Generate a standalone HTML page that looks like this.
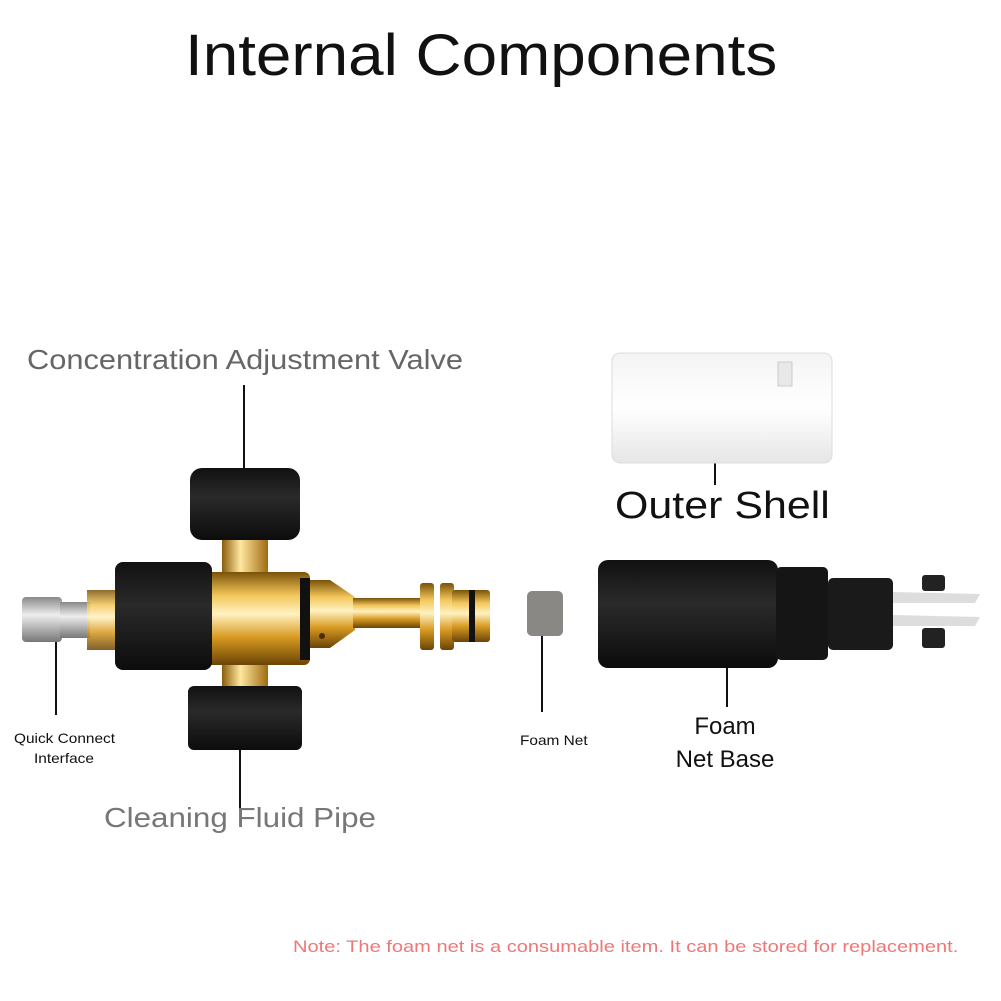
<!DOCTYPE html>
<html><head><meta charset="utf-8"><style>
html,body{margin:0;padding:0;background:#fff;}
body{width:1001px;height:1001px;position:relative;overflow:hidden;font-family:"Liberation Sans",sans-serif;}
.t{position:absolute;white-space:nowrap;transform-origin:0 0;transform:scaleX(1.1);}
</style></head><body>
<svg width="1001" height="1001" style="position:absolute;left:0;top:0">
<defs>
<linearGradient id="br" x1="0" y1="0" x2="0" y2="1">
<stop offset="0" stop-color="#7a5208"/><stop offset="0.25" stop-color="#f3c65a"/><stop offset="0.45" stop-color="#fff2c0"/><stop offset="0.7" stop-color="#d89a22"/><stop offset="1" stop-color="#6a4406"/>
</linearGradient>
<linearGradient id="brv" x1="0" y1="0" x2="1" y2="0">
<stop offset="0" stop-color="#8a5c0a"/><stop offset="0.4" stop-color="#ffe7a0"/><stop offset="1" stop-color="#a06a10"/>
</linearGradient>
<linearGradient id="si" x1="0" y1="0" x2="0" y2="1">
<stop offset="0" stop-color="#888"/><stop offset="0.4" stop-color="#eee"/><stop offset="1" stop-color="#777"/>
</linearGradient>
<linearGradient id="bk" x1="0" y1="0" x2="0" y2="1">
<stop offset="0" stop-color="#111"/><stop offset="0.4" stop-color="#2a2a2a"/><stop offset="1" stop-color="#0c0c0c"/>
</linearGradient>
<linearGradient id="wh" x1="0" y1="0" x2="0" y2="1">
<stop offset="0" stop-color="#f4f4f4"/><stop offset="0.5" stop-color="#fff"/><stop offset="1" stop-color="#e6e6e6"/>
</linearGradient>
</defs>
<g stroke="#111" stroke-width="2">
<line x1="244" y1="385" x2="244" y2="468"/>
<line x1="56" y1="625" x2="56" y2="715"/>
<line x1="240" y1="750" x2="240" y2="810"/>
<line x1="542" y1="620" x2="542" y2="712"/>
<line x1="727" y1="665" x2="727" y2="707"/>
<line x1="715" y1="445" x2="715" y2="485"/>
</g>
<rect x="612" y="353" width="220" height="110" rx="8" fill="url(#wh)" stroke="#ddd"/>
<rect x="778" y="362" width="14" height="24" fill="#e8e8e8" stroke="#ccc"/>
<rect x="22" y="597" width="40" height="45" rx="4" fill="url(#si)"/>
<rect x="60" y="602" width="30" height="36" fill="url(#si)"/>
<rect x="87" y="590" width="28" height="60" fill="url(#br)" opacity="0.85"/>
<rect x="222" y="538" width="46" height="40" fill="url(#brv)"/>
<rect x="222" y="655" width="46" height="35" fill="url(#brv)"/>
<rect x="205" y="572" width="105" height="93" rx="6" fill="url(#br)"/>
<rect x="300" y="578" width="10" height="82" fill="#111"/>
<polygon points="310,580 330,580 355,597 355,630 330,648 310,648" fill="url(#br)"/>
<rect x="353" y="598" width="72" height="30" fill="url(#br)"/>
<rect x="420" y="583" width="14" height="67" rx="3" fill="url(#br)"/>
<rect x="440" y="583" width="14" height="67" rx="3" fill="url(#br)"/>
<rect x="452" y="590" width="38" height="52" rx="3" fill="url(#br)"/>
<rect x="469" y="590" width="6" height="52" fill="#111"/>
<circle cx="322" cy="636" r="3" fill="#4a2a00"/>
<rect x="115" y="562" width="97" height="108" rx="8" fill="url(#bk)"/>
<rect x="190" y="468" width="110" height="72" rx="12" fill="url(#bk)"/>
<rect x="188" y="686" width="114" height="64" rx="6" fill="url(#bk)"/>
<rect x="527" y="591" width="36" height="45" rx="5" fill="#8a8884"/>
<rect x="598" y="560" width="180" height="108" rx="10" fill="url(#bk)"/>
<rect x="776" y="567" width="52" height="93" rx="5" fill="#151515"/>
<rect x="828" y="578" width="65" height="72" rx="5" fill="#1a1a1a"/>
<polygon points="893,592 980,594 975,603 893,603" fill="#ddd"/>
<polygon points="893,615 980,617 975,626 893,626" fill="#ddd"/>
<rect x="922" y="575" width="23" height="16" rx="3" fill="#222"/>
<rect x="922" y="628" width="23" height="20" rx="3" fill="#222"/>
</svg>
<div class="t" style="left:185px;top:22px;font-size:58px;color:#111;">Internal Components</div>
<div class="t" style="left:27px;top:344px;font-size:28px;color:#666;">Concentration Adjustment Valve</div>
<div class="t" style="left:615px;top:485px;font-size:38px;color:#111;transform:scaleX(1.13);">Outer Shell</div>
<div class="t" style="left:14px;top:730px;font-size:14px;color:#111;">Quick Connect</div>
<div class="t" style="left:34px;top:750px;font-size:14px;color:#111;">Interface</div>
<div class="t" style="left:520px;top:732px;font-size:14px;color:#111;">Foam Net</div>
<div class="t" style="left:600px;width:250px;text-align:center;top:710px;font-size:24px;color:#111;line-height:33px;transform:none;">Foam<br>Net Base</div>
<div class="t" style="left:104px;top:802px;font-size:28px;color:#777;transform:scaleX(1.12);">Cleaning Fluid Pipe</div>
<div class="t" style="left:293px;top:937px;font-size:17px;color:#ee7777;transform:scaleX(1.18);">Note: The foam net is a consumable item. It can be stored for replacement.</div>
</body></html>
